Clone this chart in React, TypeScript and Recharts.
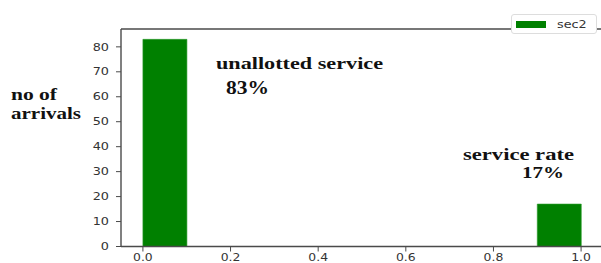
import { ComposedChart, Bar, XAxis, YAxis, ReferenceLine, Legend } from "recharts";

// histogram bins (centres) and counts
const binCenters = [0.05, 0.15, 0.25, 0.35, 0.45, 0.55, 0.65, 0.75, 0.85, 0.95];
const counts = [83, 0, 0, 0, 0, 0, 0, 0, 0, 17];
const xTicks = [0, 0.2, 0.4, 0.6, 0.8, 1.0];
const yTicks = [0, 10, 20, 30, 40, 50, 60, 70, 80];
const Y_MAX = 87.15;

const data = binCenters.map((x, i) => ({ x, sec2: counts[i] }));

const SX = 1.24; // the picture is stretched horizontally
const AXIS = "#4a4a4a";
const SANS = "DejaVu Sans";
const SERIF = "Liberation Serif";

const YTick = (props: any) => {
    const { x, y, payload } = props;
    return (
        <g transform={`translate(${x},${y})`}>
            <text transform={`scale(${SX},1)`} textAnchor="end" dy="0.355em" fontSize={10.3} fill="#333" fontFamily={SANS}>
                {payload.value}
            </text>
        </g>
    );
};

const XTick = (props: any) => {
    const { x, y, payload } = props;
    return (
        <g transform={`translate(${x},${y})`}>
            <text transform={`scale(${SX},1)`} textAnchor="middle" dy="0.71em" fontSize={10} fill="#333" fontFamily={SANS}>
                {Number(payload.value).toFixed(1)}
            </text>
        </g>
    );
};

const LegendBox = (props: any) => {
    const { payload } = props;
    return (
        <div style={{
            border: "1px solid #ddd", borderRadius: 3, background: "white",
            width: 84, height: 18, display: "flex", alignItems: "center", boxSizing: "content-box",
        }}>
            {(payload || []).map((p: any) => (
                <div key={p.value} style={{ display: "flex", alignItems: "center" }}>
                    <span style={{ display: "inline-block", width: 30, height: 7, background: p.color, marginLeft: 4 }} />
                    <span style={{
                        fontFamily: SANS, fontSize: 10.3, color: "#333", marginLeft: 11,
                        display: "inline-block", transform: `scaleX(${SX})`, transformOrigin: "left center",
                    }}>{p.value}</span>
                </div>
            ))}
        </div>
    );
};

const notes = [
    { text: "no of", x: 11, y: 100, w: 46, size: 17 },
    { text: "arrivals", x: 11, y: 119, w: 70, size: 17 },
    { text: "unallotted service", x: 216, y: 69, w: 167, size: 17 },
    { text: "83%", x: 226, y: 94, w: 43, size: 18 },
    { text: "service rate", x: 463, y: 160, w: 111, size: 16.5 },
    { text: "17%", x: 522, y: 178, w: 42, size: 17 },
];

export default function App() {
    return (
        <div style={{ position: "absolute", left: 0, top: 0, width: 601, height: 263, overflow: "hidden", background: "white" }}>
            <ComposedChart width={610} height={263} data={data} barCategoryGap={0} barGap={0}
                margin={{ top: 9, right: 7, bottom: 0, left: 0 }}>
                <XAxis dataKey="x" type="number" domain={[-0.05, 1.05]} ticks={xTicks} height={16.5}
                    tick={<XTick />} tickSize={5} tickMargin={2.5}
                    axisLine={{ stroke: AXIS, strokeWidth: 1.4 }} tickLine={{ stroke: AXIS }} />
                <YAxis type="number" domain={[0, Y_MAX]} ticks={yTicks} width={121}
                    tick={<YTick />} tickSize={5} tickMargin={7}
                    axisLine={{ stroke: AXIS, strokeWidth: 1.4 }} tickLine={{ stroke: AXIS }} />
                <ReferenceLine y={Y_MAX} stroke={AXIS} strokeWidth={1.4} />
                <Legend verticalAlign="top" align="right" content={<LegendBox />}
                    wrapperStyle={{ top: 14, left: 511, width: 86 }} />
                <Bar dataKey="sec2" name="sec2" fill="#008000" stroke="#2a9a2a" strokeWidth={0.6} isAnimationActive={false} />
            </ComposedChart>
            <svg width={601} height={263} style={{ position: "absolute", left: 0, top: 0, pointerEvents: "none" }}>
                {notes.map((n) => (
                    <text key={n.text} x={n.x} y={n.y} fontFamily={SERIF} fontWeight="bold" fontSize={n.size}
                        fill="#111" textLength={n.w} lengthAdjust="spacingAndGlyphs">
                        {n.text}
                    </text>
                ))}
            </svg>
        </div>
    );
}
